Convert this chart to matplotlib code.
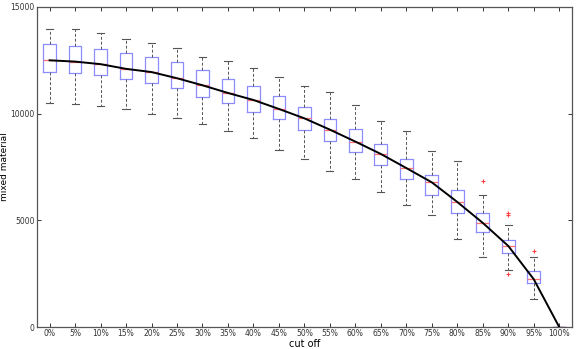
import matplotlib
matplotlib.use("Agg")
import matplotlib.pyplot as plt

# cut-off levels and box statistics
cutoffs = ["0%", "5%", "10%", "15%", "20%", "25%", "30%", "35%", "40%", "45%", "50%",
           "55%", "60%", "65%", "70%", "75%", "80%", "85%", "90%", "95%", "100%"]
whisk_lo = [10490, 10440, 10360, 10210, 9990, 9810, 9520, 9200, 8880, 8280, 7860,
            7310, 6920, 6330, 5730, 5240, 4140, 3300, 2670, 1300, 0]
q1 = [11940, 11890, 11800, 11610, 11440, 11220, 10770, 10520, 10090, 9740, 9250,
      8710, 8190, 7580, 6940, 6190, 5340, 4450, 3480, 2050, 0]
med = [12500, 12440, 12320, 12100, 11950, 11660, 11330, 10970, 10640, 10220, 9780,
       9250, 8690, 8110, 7450, 6780, 5860, 4880, 3800, 2240, 0]
q3 = [13250, 13160, 13030, 12830, 12640, 12410, 12030, 11640, 11310, 10840, 10300,
      9750, 9270, 8590, 7890, 7140, 6420, 5340, 4100, 2630, 0]
whisk_hi = [13960, 13960, 13770, 13520, 13330, 13090, 12670, 12480, 12130, 11720, 11300,
            11000, 10420, 9640, 9170, 8250, 7780, 6190, 4770, 3300, 0]
outliers = [[], [], [], [], [], [], [], [], [], [], [],
            [], [], [], [], [], [], [6830], [5330, 5240, 2480], [3580], []]

stats = []
for i, name in enumerate(cutoffs):
    stats.append(dict(label=name, whislo=whisk_lo[i], q1=q1[i], med=med[i],
                      q3=q3[i], whishi=whisk_hi[i], fliers=outliers[i]))

fig = plt.figure(figsize=(5.76, 3.49), dpi=100)
ax = fig.add_axes([0.064, 0.063, 0.929, 0.917])

positions = list(range(1, len(cutoffs) + 1))
ax.bxp(stats, positions=positions, widths=0.5, capwidths=0.28,
       boxprops=dict(color="#8c8cff", linewidth=0.9),
       medianprops=dict(color="#ff7070", linewidth=0.9),
       whiskerprops=dict(color="#555555", linewidth=0.7, linestyle=(0, (3, 2))),
       capprops=dict(color="#555555", linewidth=0.8),
       flierprops=dict(marker="+", markeredgecolor="#ff4040", markersize=3.5,
                       markeredgewidth=0.8))

# trend line through the medians
ax.plot(positions, med, color="black", linewidth=1.4, zorder=5)

ax.set_xlim(0.5, len(cutoffs) + 0.5)
ax.set_ylim(0, 15000)
ax.set_yticks([0, 5000, 10000, 15000])
ax.set_xticks(positions)
ax.set_xticklabels(cutoffs)
ax.tick_params(direction="in", length=3, width=0.7, labelsize=5.5, colors="#333333",
               top=True, right=True, pad=1.5)
for s in ax.spines.values():
    s.set_color("#555555")
    s.set_linewidth(0.9)

ax.set_xlabel("cut off", fontsize=7, labelpad=0.5)
ax.set_ylabel("mixed material", fontsize=6.5, labelpad=1)

fig.savefig("out.png", dpi=100)
